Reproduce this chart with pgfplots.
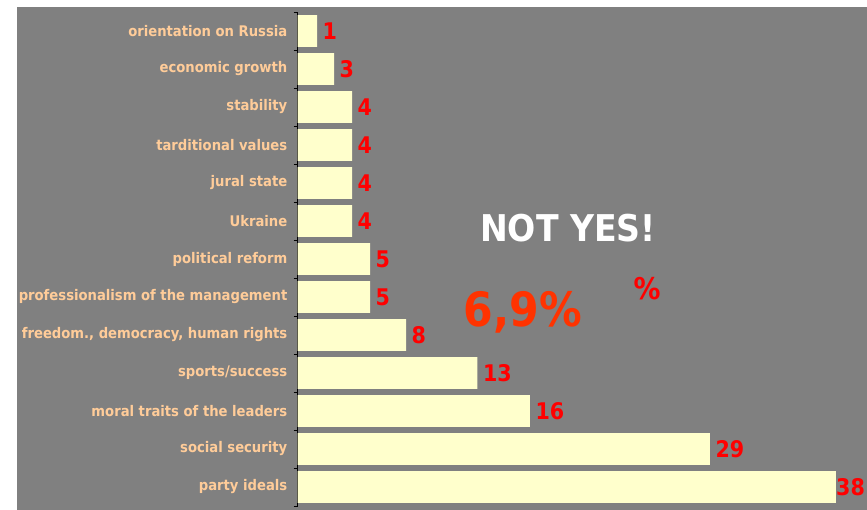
\documentclass[border=0pt]{standalone}
\usepackage{pgfplots}
\pgfplotsset{compat=1.18}
\usepackage{fontspec}
\setmainfont{DejaVu Sans Condensed}
\definecolor{bggray}{HTML}{808080}
\definecolor{peach}{HTML}{FFCC99}
\definecolor{barfill}{HTML}{FFFFCC}
\definecolor{orred}{HTML}{FF3300}
\begin{document}
\begin{tikzpicture}
\path[use as bounding box] (0,0) rectangle (867bp,510bp);
\fill[bggray] (17bp,0) rectangle (867bp,503bp);
\begin{axis}[
  at={(297.5bp,4bp)}, anchor=south west,
  scale only axis, width=569.5bp, height=494bp,
  xbar, bar width=0.84,
  xmin=0, xmax=40.19,
  ymin=-0.5, ymax=12.5,
  axis x line=none,
  axis y line=left,
  y axis line style={-, black},
  ytick={0,...,12},
  yticklabels={party ideals, social security, moral traits of the leaders, sports/success, {freedom., democracy, human rights}, professionalism of the management, political reform, Ukraine, jural state, tarditional values, stability, economic growth, orientation on Russia},
  major tick length=0pt,
  extra y ticks={-0.5,0.5,...,12.5},
  extra y tick labels={},
  extra y tick style={major tick length=4bp, tick align=outside, tick style={black}},
  yticklabel style={font=\fontsize{14.7}{17}\selectfont\bfseries, text=peach, inner sep=0pt, xshift=-10bp},
  visualization depends on={x \as \rawx},
  nodes near coords={\pgfmathprintnumber[fixed, precision=0]{\pgfplotspointmeta}},
  nodes near coords style={font=\fontsize{23}{26}\selectfont\bfseries, text=red, anchor=west, inner sep=0pt, xshift={(\rawx>37 ? 0 : 5.5)}, /pgf/number format/assume math mode=true},
  clip=false,
]
\addplot[fill=barfill, draw=none] coordinates {
 (38.0,0) (29.1,1) (16.4,2) (12.7,3) (7.66,4) (5.12,5) (5.12,6) (3.85,7) (3.85,8) (3.85,9) (3.85,10) (2.58,11) (1.38,12)
};
\end{axis}
\node[anchor=base, text=white, font=\fontsize{37}{40}\selectfont\bfseries, inner sep=0pt] at (568bp,268bp) {NOT YES!};
\node[anchor=base, text=orred, font=\fontsize{47.5}{50}\selectfont\bfseries, inner sep=0pt] at (523bp,183bp) {6,9\%};
\node[anchor=base, text=red, font=\fontsize{30}{34}\selectfont\bfseries, inner sep=0pt] at (647bp,210bp) {\%};
\end{tikzpicture}
\end{document}
